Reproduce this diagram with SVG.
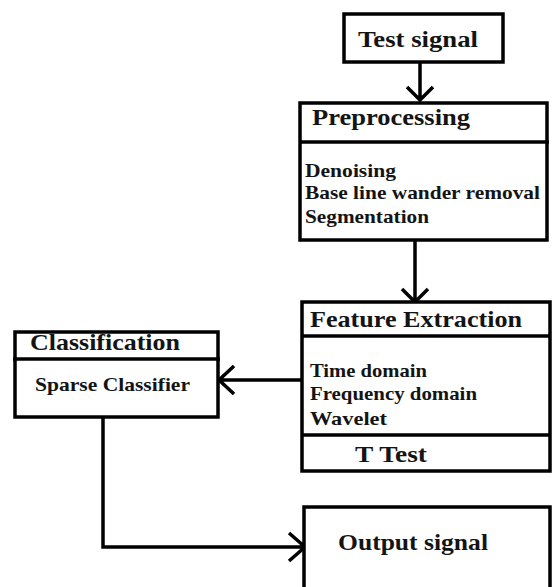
<svg xmlns="http://www.w3.org/2000/svg" width="552" height="587" viewBox="0 0 552 587">
<style>
.box{fill:#fff;stroke:#000;stroke-width:3.5}
.div{stroke:#000;stroke-width:3.5}
.t{font-family:"Liberation Serif","Times New Roman",serif;font-weight:bold;font-size:23px;fill:#141414}
.b{font-family:"Liberation Serif","Times New Roman",serif;font-weight:bold;font-size:19px;fill:#141414}
.c{fill:none;stroke:#000;stroke-width:3.5}
</style>
<rect width="552" height="587" fill="#fff"/>
<g id="connectors">
<path class="c" d="M420 62 V100 M407 87 L420 100 L433 87"/>
<path class="c" d="M415 240 V302 M402 289 L415 302 L428 289"/>
<path class="c" d="M302 380 H219 M234 366 L219 380 L234 394"/>
<path class="c" d="M103 417 V547 H305 M289 533 L305 547 L289 561"/>
</g>
<g id="test-signal">
<rect class="box" x="344" y="14" width="159" height="48"/>
<text class="t" x="358" y="47" textLength="120" lengthAdjust="spacingAndGlyphs">Test signal</text>
</g>
<g id="preprocessing">
<rect class="box" x="300" y="103" width="247" height="137"/>
<line class="div" x1="300" y1="142" x2="549" y2="142"/>
<text class="t" x="312" y="125" textLength="158" lengthAdjust="spacingAndGlyphs">Preprocessing</text>
<text class="b" x="305" y="177" textLength="91" lengthAdjust="spacingAndGlyphs">Denoising</text>
<text class="b" x="305" y="199" textLength="235" lengthAdjust="spacingAndGlyphs">Base line wander removal</text>
<text class="b" x="305" y="223" textLength="124" lengthAdjust="spacingAndGlyphs">Segmentation</text>
</g>
<g id="feature-extraction">
<rect class="box" x="302" y="302" width="248" height="169"/>
<line class="div" x1="302" y1="336" x2="550" y2="336"/>
<line class="div" x1="302" y1="435" x2="550" y2="435"/>
<text class="t" x="310" y="327" textLength="212" lengthAdjust="spacingAndGlyphs">Feature Extraction</text>
<text class="b" x="310" y="377" textLength="117" lengthAdjust="spacingAndGlyphs">Time domain</text>
<text class="b" x="310" y="400" textLength="167" lengthAdjust="spacingAndGlyphs">Frequency domain</text>
<text class="b" x="310" y="425" textLength="77" lengthAdjust="spacingAndGlyphs">Wavelet</text>
<text class="t" x="355" y="462" textLength="72" lengthAdjust="spacingAndGlyphs">T Test</text>
</g>
<g id="classification">
<rect class="box" x="15" y="332" width="203" height="85"/>
<line class="div" x1="13" y1="359" x2="220" y2="359"/>
<text class="t" x="30" y="350" textLength="150" lengthAdjust="spacingAndGlyphs">Classification</text>
<text class="b" x="35" y="391" textLength="155" lengthAdjust="spacingAndGlyphs">Sparse Classifier</text>
</g>
<g id="output-signal">
<rect class="box" x="304" y="507" width="246" height="100"/>
<text class="t" x="338" y="550" textLength="150" lengthAdjust="spacingAndGlyphs">Output signal</text>
</g>
</svg>
